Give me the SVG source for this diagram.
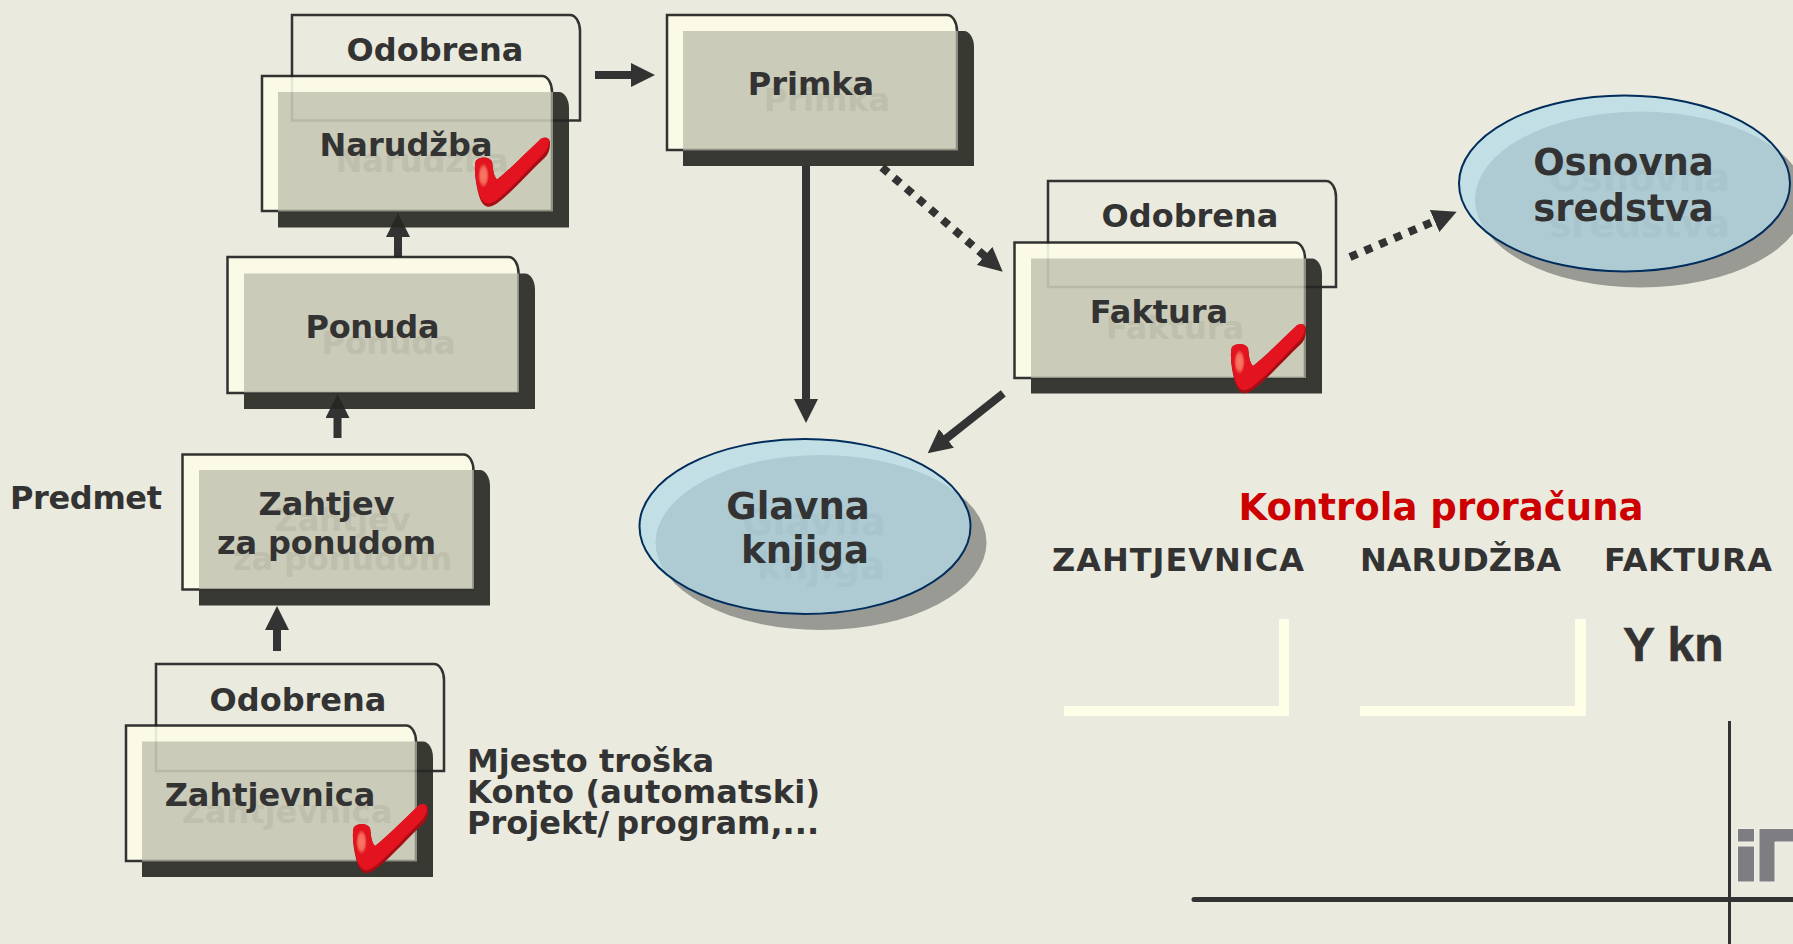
<svg xmlns="http://www.w3.org/2000/svg" width="1793" height="944" viewBox="0 0 1793 944">
<defs>
<style>
text{font-family:"DejaVu Sans",Verdana,sans-serif;font-weight:700;fill:#333333;font-size:32px}
.c{text-anchor:middle}
.g{fill:#bfbfae}
.gb{fill:#a8c5cd}
.big{font-size:37px}
.box{opacity:.9}
.front{fill:#fcfce9;stroke:#1f1f1f;stroke-width:2.500}
.shadow{fill:#262622}
.body{fill:#b2b29f;fill-opacity:.7}
.appr{fill:none;stroke:#333333;stroke-width:2.500}
.conn{fill:none;stroke:#333333;stroke-width:8}
.dot{stroke-dasharray:8 8}
.logo{fill:#7d7d82;stroke:#f0f0e8;stroke-width:1}
</style>
<marker id="ah" markerUnits="userSpaceOnUse" markerWidth="24" markerHeight="24" refX="1" refY="12" orient="auto" viewBox="0 0 24 24"><path d="M0 0L24 12L0 24Z" fill="#333333"/></marker>
<radialGradient id="hl"><stop offset="0" stop-color="#f97a66"/><stop offset=".6" stop-color="#f46a5a"/><stop offset="1" stop-color="#e3141f"/></radialGradient>
<symbol id="check" viewBox="0 0 76 72" width="76" height="72" overflow="visible">
<path d="M3 52C1 42 0 30 2 25C6 21 15 21 18 26C19 32 19 40 23 44C36 34 52 17 67 4C71 1 76 2 76 7C76 13 75 18 71 22C57 35 42 52 28 64C22 69 17 72 13 71C8 70 5 62 3 52Z" fill="#a50f14"/>
<path d="M3 50C1 40 0 30 2 25C6 21 15 21 18 26C19 32 19 40 23 44C36 34 52 17 67 3C71 1 75 2 75 6C75 11 73 15 68 20C55 33 41 49 27 61C21 66 16 69 13 68C8 67 5 60 3 50Z" fill="#e3141f"/>
<ellipse cx="9.500" cy="40" rx="5.500" ry="12.500" fill="url(#hl)"/>
</symbol>
<clipPath id="cg"><ellipse cx="805" cy="526.500" rx="165.500" ry="87.500"/></clipPath>
<clipPath id="co"><ellipse cx="1624.500" cy="183.500" rx="165.500" ry="88"/></clipPath>
</defs>
<rect width="1793" height="944" fill="#eaeade"/>

<g id="connectors">
<path class="conn" d="M595 75H632" marker-end="url(#ah)"/>
<path class="conn" d="M806 166V400" marker-end="url(#ah)"/>
<path class="conn dot" d="M882 167.400L985.300 256.600" marker-end="url(#ah)"/>
<path class="conn" d="M1003.300 393.300L945.700 439" marker-end="url(#ah)"/>
<path class="conn dot" d="M1350 257L1435.500 220.700" marker-end="url(#ah)"/>
<path class="conn" d="M398 257V236" marker-end="url(#ah)"/>
<path class="conn" d="M337.500 438V417" marker-end="url(#ah)"/>
<path class="conn" d="M277 651V629" marker-end="url(#ah)"/>
</g>

<g id="zahtjevnica-odobrena">
<path class="appr" d="M156 664H434A10 16 0 0 1 444 680V771H156Z"/>
<text class="c" x="298" y="711">Odobrena</text>
</g>
<g id="zahtjevnica">
<g class="box">
<path class="shadow" d="M142 741.500H423A10 16 0 0 1 433 757.500V877H142Z"/>
<path class="front" d="M126 725.500H406A10 16 0 0 1 416 741.500V861H126Z"/>
<rect class="body" x="142" y="741.500" width="275" height="120"/>
</g>
<text class="g c" x="287" y="823">Zahtjevnica</text>
<text class="c" x="270" y="806">Zahtjevnica</text>
</g>
<use href="#check" x="352" y="802"/>

<g id="zahtjev">
<g class="box">
<path class="shadow" d="M199 470H480A10 16 0 0 1 490 486V605.500H199Z"/>
<path class="front" d="M182.500 454.500H463.500A10 16 0 0 1 473.500 470.500V589.500H182.500Z"/>
<rect class="body" x="199" y="470" width="275" height="119"/>
</g>
<text class="g c" x="342.500" y="531" textLength="136">Zahtjev</text>
<text class="g c" x="342.500" y="569.500" textLength="219">za ponudom</text>
<text class="c" x="326.500" y="515" textLength="136">Zahtjev</text>
<text class="c" x="326.500" y="553.500" textLength="219">za ponudom</text>
</g>

<g id="ponuda">
<g class="box">
<path class="shadow" d="M244 273.500H525A10 16 0 0 1 535 289.500V409H244Z"/>
<path class="front" d="M227.500 257H508.500A10 16 0 0 1 518.500 273V393H227.500Z"/>
<rect class="body" x="244" y="273.500" width="275" height="119"/>
</g>
<text class="g c" x="388.500" y="354" textLength="134">Ponuda</text>
<text class="c" x="372.500" y="338" textLength="134">Ponuda</text>
</g>

<g id="narudzba-odobrena">
<path class="appr" d="M292 15H570A10 16 0 0 1 580 31V120.500H292Z"/>
<text class="c" x="435" y="61">Odobrena</text>
</g>
<g id="narudzba">
<g class="box">
<path class="shadow" d="M278 92H559A10 16 0 0 1 569 108V227.500H278Z"/>
<path class="front" d="M262 76H542A10 16 0 0 1 552 92V211H262Z"/>
<rect class="body" x="278" y="92" width="275" height="119.500"/>
</g>
<text class="g c" x="422" y="172">Narudžba</text>
<text class="c" x="406" y="156">Narudžba</text>
</g>
<use href="#check" x="474" y="135.500"/>

<g id="primka">
<g class="box">
<path class="shadow" d="M683 31H964A10 16 0 0 1 974 47V166H683Z"/>
<path class="front" d="M667 15H947A10 16 0 0 1 957 31V150H667Z"/>
<rect class="body" x="683" y="31" width="275" height="119.500"/>
</g>
<text class="g c" x="827" y="111">Primka</text>
<text class="c" x="811" y="95">Primka</text>
</g>

<g id="faktura-odobrena">
<path class="appr" d="M1048 181H1326A10 16 0 0 1 1336 197V287H1048Z"/>
<text class="c" x="1190" y="227">Odobrena</text>
</g>
<g id="faktura">
<g class="box">
<path class="shadow" d="M1031 258.500H1312A10 16 0 0 1 1322 274.500V393.500H1031Z"/>
<path class="front" d="M1014.500 242.500H1295A10 16 0 0 1 1305 258.500V378H1014.500Z"/>
<rect class="body" x="1031" y="258.500" width="275" height="119.500"/>
</g>
<text class="g c" x="1175" y="339">Faktura</text>
<text class="c" x="1159" y="323">Faktura</text>
</g>
<use href="#check" x="1230" y="322"/>

<g id="glavna-knjiga">
<ellipse cx="821" cy="542.500" rx="165.500" ry="87.500" fill="#9a9a94"/>
<ellipse cx="805" cy="526.500" rx="165.500" ry="87.500" fill="#c3dfe6"/>
<ellipse cx="821" cy="542.500" rx="165.500" ry="87.500" fill="#aecbd3" clip-path="url(#cg)"/>
<ellipse cx="805" cy="526.500" rx="165.500" ry="87.500" fill="none" stroke="#002d5c" stroke-width="2"/>
<text class="gb c big" x="814" y="535">Glavna</text>
<text class="gb c big" x="821" y="579">knjiga</text>
<text class="c big" x="798" y="519">Glavna</text>
<text class="c big" x="805" y="563">knjiga</text>
</g>

<g id="osnovna-sredstva">
<ellipse cx="1640.500" cy="199.500" rx="165.500" ry="88" fill="#9a9a94"/>
<ellipse cx="1624.500" cy="183.500" rx="165.500" ry="88" fill="#c3dfe6"/>
<ellipse cx="1640.500" cy="199.500" rx="165.500" ry="88" fill="#aecbd3" clip-path="url(#co)"/>
<ellipse cx="1624.500" cy="183.500" rx="165.500" ry="88" fill="none" stroke="#002d5c" stroke-width="2"/>
<text class="gb c big" x="1639.500" y="191">Osnovna</text>
<text class="gb c big" x="1639.500" y="237">sredstva</text>
<text class="c big" x="1623.500" y="175">Osnovna</text>
<text class="c big" x="1623.500" y="221">sredstva</text>
</g>

<text x="10" y="509" textLength="152">Predmet</text>
<text x="467" y="772">Mjesto troška</text>
<text x="467" y="803" textLength="353" lengthAdjust="spacing">Konto (automatski)</text>
<text x="467" y="834">Projekt/<tspan dx="7">program,...</tspan></text>
<text class="c big" x="1441" y="519.500" textLength="405" lengthAdjust="spacing" style="fill:#cc0000">Kontrola proračuna</text>
<text x="1052" y="571" textLength="252" lengthAdjust="spacing">ZAHTJEVNICA</text>
<text x="1360" y="571">NARUDŽBA</text>
<text x="1604" y="571" textLength="168" lengthAdjust="spacing">FAKTURA</text>
<text x="1623" y="661" stroke="#333333" stroke-width=".6" style="font-family:'Liberation Sans',Arial,sans-serif;font-size:48px">Y kn</text>

<path d="M1064 706H1279V619H1289V716H1064Z" fill="#ffffe8"/>
<path d="M1360 706H1575V619H1586V716H1360Z" fill="#ffffe8"/>
<path d="M1194 899.500H1793" stroke="#333333" stroke-width="5" stroke-linecap="round"/>
<path d="M1729.500 721V944" stroke="#333333" stroke-width="3"/>
<g id="logo">
<rect class="logo" x="1737.500" y="828.500" width="17" height="13.500"/>
<rect class="logo" x="1737.500" y="846" width="17" height="36"/>
<path class="logo" d="M1759 828.500H1794V842H1775V882H1759Z"/>
</g>
</svg>
